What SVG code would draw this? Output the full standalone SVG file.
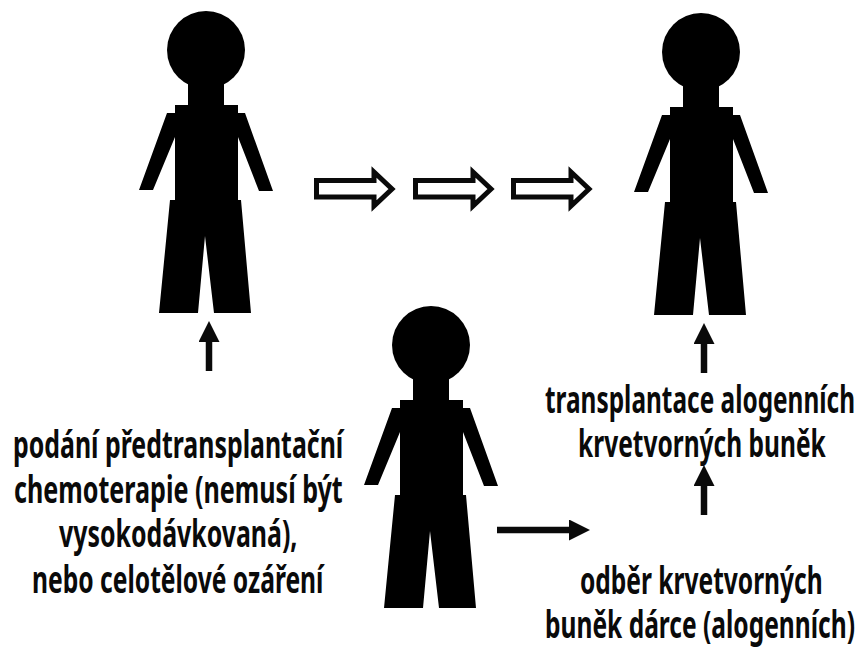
<svg xmlns="http://www.w3.org/2000/svg" width="864" height="648" viewBox="0 0 864 648">
<style>
text{font-family:"Noto Sans","Open Sans",sans-serif;font-size:38px;font-weight:700;fill:#0a0a0a}
.hollow{fill:#fff;stroke:#0a0a0a;stroke-width:5;stroke-linejoin:miter}
.solid{stroke:#0a0a0a;stroke-width:6.5;fill:none;marker-end:url(#head)}
.body{fill:#000}
</style>
<defs>
<marker id="head" markerUnits="userSpaceOnUse" viewBox="0 0 21 21" markerWidth="21" markerHeight="21" refX="0" refY="10.5" orient="auto"><path d="M0 0L21 10.5L0 21Z" fill="#0a0a0a"/></marker>
<g id="person">
<circle cx="206" cy="50" r="39"/>
<path d="M188 80H224V105H238V113H245L273 191H259L238 137V200H241L251 313H214L205 236L198 313H159L170 200H175V137L153 190H139L167 113H175V105H188Z"/>
</g>
</defs>
<rect width="864" height="648" fill="#fff"/>
<g id="patient-before" class="body"><use href="#person"/></g>
<g id="patient-after" class="body"><use href="#person" x="495" y="2"/></g>
<g id="donor" class="body"><use href="#person" x="225" y="295"/></g>
<g id="connectors">
<path id="step1" class="hollow" d="M316.500 180.500H374V172L392 189L374 206V197H316.500Z"/>
<path id="step2" class="hollow" d="M415.500 180.500H473V172L491 189L473 206V197H415.500Z"/>
<path id="step3" class="hollow" d="M513.500 180.500H571V172L589 189L571 206V197H513.500Z"/>
<line class="solid" x1="209" y1="371" x2="209" y2="342"/>
<line class="solid" x1="704" y1="373" x2="704" y2="344"/>
<line class="solid" x1="704" y1="515" x2="704" y2="486"/>
<line class="solid" x1="497" y1="530" x2="569" y2="530"/>
</g>
<g id="label-chemo">
<text transform="matrix(.655 0 0 1 13 458)">podání předtransplantační</text>
<text transform="matrix(.661 0 0 1 14 503)">chemoterapie (nemusí být</text>
<text transform="matrix(.655 0 0 1 59 547)">vysokodávkovaná),</text>
<text transform="matrix(.648 0 0 1 32 593)">nebo celotělové ozáření</text>
</g>
<g id="label-transplant">
<text transform="matrix(.642 0 0 1 545 413)">transplantace alogenních</text>
<text transform="matrix(.645 0 0 1 578 457)">krvetvorných buněk</text>
</g>
<g id="label-harvest">
<text transform="matrix(.646 0 0 1 580 594)">odběr krvetvorných</text>
<text transform="matrix(.646 0 0 1 545 638)">buněk dárce (alogenních)</text>
</g>
</svg>
